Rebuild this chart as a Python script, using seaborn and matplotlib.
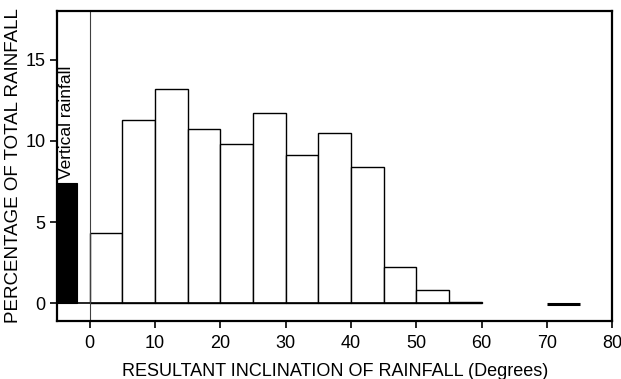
import matplotlib
matplotlib.use("Agg")
import matplotlib.pyplot as plt
import seaborn as sns
import numpy as np
import pandas as pd

# inclination classes (degrees) and share of total rainfall (%)
bin_edges = [0, 5, 10, 15, 20, 25, 30, 35, 40, 45, 50, 55, 60]
rain_pct = [4.3, 11.3, 13.2, 10.7, 9.8, 11.7, 9.1, 10.5, 8.4, 2.2, 0.8, 0.05]

# vertical rainfall column, drawn left of zero
vertical_edges = [-5, -2]
vertical_pct = [7.4]

# isolated trace class
trace_edges = [70, 75]
trace_pct = [-0.05]

x_ticks = [0, 10, 20, 30, 40, 50, 60, 70, 80]
y_ticks = [0, 5, 10, 15]

sns.set_style("ticks")
plt.rcParams['font.family'] = ['Liberation Sans', 'DejaVu Sans']
plt.rcParams.update({'text.color': 'black', 'axes.labelcolor': 'black',
                     'xtick.color': 'black', 'ytick.color': 'black',
                     'axes.edgecolor': 'black'})

df = pd.DataFrame({
    'mid': [(a + b) / 2 for a, b in zip(bin_edges[:-1], bin_edges[1:])],
    'pct': rain_pct,
})
vdf = pd.DataFrame({'mid': [np.mean(vertical_edges)], 'pct': vertical_pct})

fig = plt.figure(figsize=(6.21, 3.79), dpi=100)
ax = fig.add_axes([0.092, 0.153, 0.894, 0.818])

sns.histplot(data=df, x='mid', weights='pct', bins=bin_edges, ax=ax,
             color='white', edgecolor='black', linewidth=1.0, alpha=1)
sns.histplot(data=vdf, x='mid', weights='pct', bins=vertical_edges, ax=ax,
             color='black', edgecolor='black', linewidth=0.8, alpha=1)

# baseline and zero line
ax.hlines(0, vertical_edges[0], bin_edges[-1], color='black', lw=1.2)
ax.hlines(trace_pct[0], trace_edges[0], trace_edges[1], color='black', lw=2.2)
ax.axvline(0, color='0.25', lw=0.8)

ax.text(np.mean(vertical_edges), vertical_pct[0] + 0.25, 'Vertical rainfall',
        rotation=90, ha='center', va='bottom', fontsize=12.5)

ax.set_xlim(-5, 80)
ax.set_ylim(-1.1, 18)
ax.set_xticks(x_ticks)
ax.set_yticks(y_ticks)
ax.tick_params(axis='both', labelsize=13, width=1.2, length=5, direction='out')
ax.tick_params(axis='x', pad=5)
for side in ['left', 'right', 'top', 'bottom']:
    ax.spines[side].set_visible(True)
    ax.spines[side].set_linewidth(1.6)

ax.set_xlabel('RESULTANT INCLINATION OF RAINFALL (Degrees)', fontsize=13, labelpad=8)
ax.set_ylabel('PERCENTAGE OF TOTAL RAINFALL', fontsize=13.5, labelpad=2)

fig.savefig('out.png', dpi=100)
